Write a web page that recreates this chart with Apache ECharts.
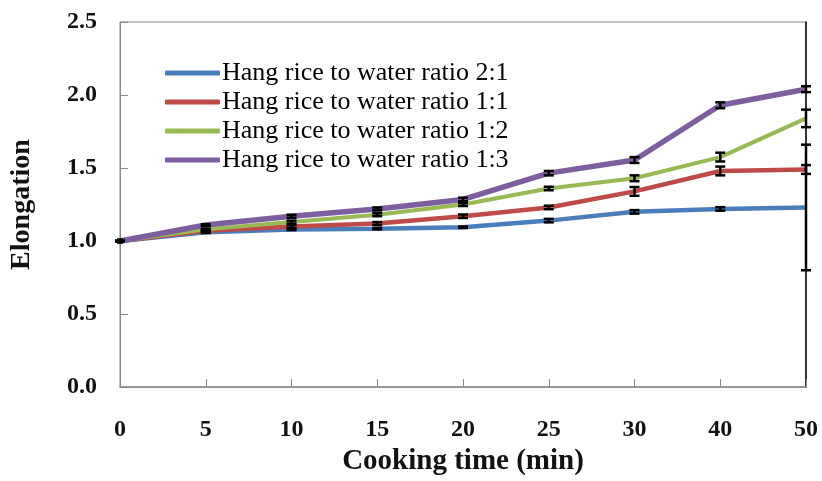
<!DOCTYPE html>
<html>
<head>
<meta charset="utf-8">
<script src="https://cdn.jsdelivr.net/npm/echarts@6/dist/echarts.min.js"></script>
<style>html,body{margin:0;padding:0;background:#fff}#c{width:822px;height:481px}</style>
</head>
<body>
<div id="c"></div>
<script>
const categories = ['0','5','10','15','20','25','30','40','50'];
const seriesNames = ['Hang rice to water ratio 2:1','Hang rice to water ratio 1:1','Hang rice to water ratio 1:2','Hang rice to water ratio 1:3'];
const ratio21 = [1.00, 1.06, 1.08, 1.085, 1.095, 1.14, 1.20, 1.22, 1.23];
const ratio11 = [1.00, 1.07, 1.10, 1.12, 1.17, 1.23, 1.34, 1.48, 1.49];
const ratio12 = [1.00, 1.08, 1.13, 1.18, 1.25, 1.36, 1.43, 1.575, 1.84];
const ratio13 = [1.00, 1.11, 1.17, 1.22, 1.285, 1.465, 1.555, 1.93, 2.04];
const err21 = [0, 0.005, 0.005, 0.005, 0.005, 0.012, 0.012, 0.012, 0.43];
const err11 = [0, 0.005, 0.01, 0.01, 0.012, 0.012, 0.03, 0.03, 0.03];
const err12 = [0, 0.005, 0.01, 0.01, 0.01, 0.012, 0.02, 0.03, 0.06];
const err13 = [0, 0.005, 0.01, 0.01, 0.012, 0.015, 0.02, 0.02, 0.02];
const colors = ['#4a7ebb', '#be4b48', '#98b954', '#7d5fa0'];
const widths = [4.5, 4.5, 4, 5.5];

const values = [ratio21, ratio11, ratio12, ratio13];
const errs = [err21, err11, err12, err13];

const font = '"Liberation Serif", "Times New Roman", serif';

const lineSeries = values.map((v, i) => ({
  name: seriesNames[i],
  type: 'line',
  data: v,
  symbol: 'none',
  z: 2 + i,
  lineStyle: { color: colors[i], width: widths[i] },
  itemStyle: { color: colors[i] }
}));

const errSeries = values.map((v, i) => ({
  type: 'custom',
  z: 10,
  silent: true,
  data: v.map((y, j) => [j, y - errs[i][j], y + errs[i][j]]),
  renderItem: function (params, api) {
    const x = api.value(0);
    const lo = api.coord([x, api.value(1)]);
    const hi = api.coord([x, api.value(2)]);
    const cw = 5;
    const st = { stroke: '#000', lineWidth: 2.5 };
    const children = [
      { type: 'line', shape: { x1: lo[0], y1: lo[1], x2: hi[0], y2: hi[1] }, style: st },
      { type: 'line', shape: { x1: lo[0] - cw, y1: lo[1], x2: lo[0] + cw, y2: lo[1] }, style: st },
      { type: 'line', shape: { x1: hi[0] - cw, y1: hi[1], x2: hi[0] + cw, y2: hi[1] }, style: st }
    ];
    return { type: 'group', children: children };
  }
}));

const startMarker = {
  type: 'scatter',
  data: [[0, ratio21[0]]],
  symbol: 'rect',
  symbolSize: 6,
  itemStyle: { color: '#000' },
  z: 12,
  silent: true
};

const chart = echarts.init(document.getElementById('c'), null, { renderer: 'canvas' });
chart.setOption({
  animation: false,
  backgroundColor: '#fff',
  grid: { left: 120, right: 16, top: 22, bottom: 86, show: true, borderColor: '#888', borderWidth: 1, containLabel: false },
  legend: {
    data: seriesNames.map((n, i) => ({ name: n, itemStyle: { color: colors[i] } })),
    orient: 'vertical',
    left: 160,
    top: 55,
    itemWidth: 55,
    itemHeight: 5,
    itemGap: 3,
    icon: 'roundRect',
    textStyle: { fontFamily: font, fontSize: 26, color: '#000', padding: [0, 0, 0, -3] }
  },
  xAxis: {
    type: 'category',
    data: categories,
    boundaryGap: false,
    axisLine: { lineStyle: { color: '#888', width: 1.5 } },
    axisTick: { inside: true, length: 8, lineStyle: { color: '#888' }, alignWithLabel: true },
    axisLabel: { fontFamily: font, fontSize: 24, fontWeight: 'bold', color: '#111', margin: 31 },
    name: 'Cooking time (min)',
    nameLocation: 'middle',
    nameGap: 59,
    nameTextStyle: { fontFamily: font, fontSize: 29, fontWeight: 'bold', color: '#111' },
    splitLine: { show: false }
  },
  yAxis: [{
    type: 'value',
    min: 0,
    max: 2.5,
    interval: 0.5,
    axisLine: { show: true, lineStyle: { color: '#888', width: 1 } },
    axisTick: { show: true, inside: true, length: 8, lineStyle: { color: '#888' } },
    axisLabel: { fontFamily: font, fontSize: 24, fontWeight: 'bold', color: '#111', margin: 23, formatter: v => v.toFixed(1) },
    splitLine: { show: false },
    name: 'Elongation',
    nameLocation: 'middle',
    nameGap: 84,
    nameRotate: 90,
    nameTextStyle: { fontFamily: font, fontSize: 28, fontWeight: 'bold', color: '#111' }
  }, {
    type: 'value',
    position: 'right',
    min: 0,
    max: 2.5,
    interval: 0.5,
    axisLine: { show: true, lineStyle: { color: '#000', width: 1.5 } },
    axisTick: { show: false },
    axisLabel: { show: false },
    splitLine: { show: false }
  }],
  series: [...lineSeries, ...errSeries, startMarker]
});
</script>
</body>
</html>
